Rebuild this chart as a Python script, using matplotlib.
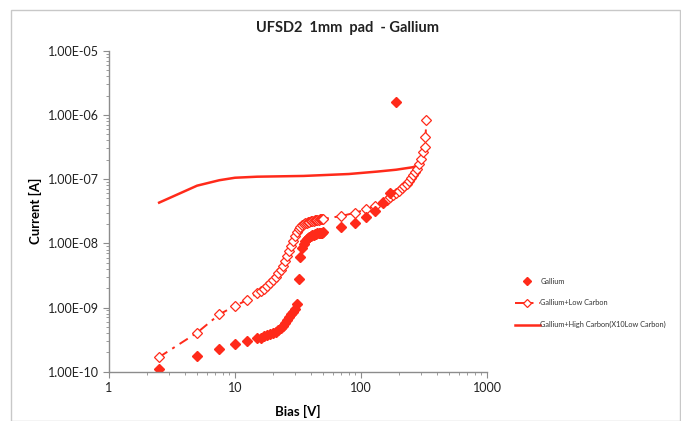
import matplotlib
matplotlib.use("Agg")
import matplotlib.pyplot as plt
from matplotlib.patches import Rectangle
from matplotlib.ticker import LogLocator, FixedFormatter, NullFormatter, FixedLocator

plt.rcParams['font.family'] = ['Lato', 'DejaVu Sans']

RED = '#ff2a1a'

# Gallium (filled diamonds)
ga_v = [2.5, 5, 7.5, 10, 12.5, 15, 16, 17, 18, 19, 20, 21, 22, 23, 24, 25, 26, 27, 28, 29, 30, 31,
        32, 33, 34, 35, 36, 37, 38, 39, 40, 41, 42, 43, 44, 45, 46, 47, 48, 49, 50,
        70, 90, 110, 130, 150, 170, 190]
ga_i = [1.11e-10, 1.77e-10, 2.28e-10, 2.7e-10, 3.0e-10, 3.3e-10, 3.4e-10, 3.55e-10, 3.7e-10, 3.85e-10,
        4.0e-10, 4.2e-10, 4.45e-10, 4.8e-10, 5.2e-10, 5.7e-10, 6.4e-10, 7.0e-10, 7.8e-10, 8.6e-10,
        9.6e-10, 1.12e-9,
        2.75e-9, 6.2e-9, 8.3e-9, 9.6e-9, 1.07e-8, 1.15e-8, 1.22e-8, 1.27e-8, 1.31e-8, 1.34e-8,
        1.37e-8, 1.39e-8, 1.41e-8, 1.43e-8, 1.44e-8, 1.45e-8, 1.46e-8, 1.47e-8, 1.48e-8,
        1.77e-8, 2.1e-8, 2.54e-8, 3.15e-8, 4.2e-8, 6.0e-8, 1.59e-6]

# Gallium + Low Carbon (open diamonds, dash-dot)
lc_v = [2.5, 5, 7.5, 10, 12.5, 15, 16, 17, 18, 19, 20, 21, 22, 23, 24, 25, 26, 27, 28, 29, 30,
        31, 32, 33, 34, 35, 36, 37, 38, 39, 40, 41, 42, 43, 44, 45, 46, 47, 48, 49, 50,
        70, 90, 110, 130, 150, 160, 170, 180, 190, 200, 210, 220, 230, 240, 250, 260, 270,
        280, 290, 300, 310, 320, 325, 330]
lc_i = [1.69e-10, 4.05e-10, 7.8e-10, 1.06e-9, 1.31e-9, 1.66e-9, 1.8e-9, 1.95e-9, 2.15e-9, 2.4e-9,
        2.7e-9, 3.0e-9, 3.4e-9, 3.9e-9, 4.5e-9, 5.3e-9, 6.3e-9, 7.5e-9, 9.0e-9, 1.08e-8, 1.3e-8,
        1.5e-8, 1.67e-8, 1.8e-8, 1.9e-8, 1.98e-8, 2.05e-8, 2.1e-8, 2.14e-8, 2.18e-8, 2.21e-8,
        2.24e-8, 2.26e-8, 2.28e-8, 2.3e-8, 2.32e-8, 2.34e-8, 2.35e-8, 2.37e-8, 2.38e-8, 2.4e-8,
        2.66e-8, 3.0e-8, 3.37e-8, 3.85e-8, 4.4e-8, 4.8e-8, 5.2e-8, 5.6e-8, 6.1e-8, 6.6e-8,
        7.2e-8, 7.8e-8, 8.5e-8, 9.3e-8, 1.03e-7, 1.14e-7, 1.28e-7, 1.45e-7, 1.7e-7, 2.05e-7,
        2.6e-7, 3.2e-7, 4.5e-7, 8.2e-7]

# Gallium + High Carbon (solid line)
hc_v = [2.5, 5, 7.5, 10, 15, 35, 80, 135, 190, 257, 275]
hc_i = [4.3e-8, 7.9e-8, 9.6e-8, 1.05e-7, 1.09e-7, 1.12e-7, 1.2e-7, 1.31e-7, 1.4e-7, 1.53e-7, 1.6e-7]

y_ticks = [1e-10, 1e-9, 1e-8, 1e-7, 1e-6, 1e-5]
y_labels = ['1.00E-10', '1.00E-09', '1.00E-08', '1.00E-07', '1.00E-06', '1.00E-05']
x_ticks = [1, 10, 100, 1000]
x_labels = ['1', '10', '100', '1000']

fig = plt.figure(figsize=(6.81, 4.21), dpi=100)
fig.patches.append(Rectangle((11/681, 0), 1 - 12/681, 1 - 10/421, transform=fig.transFigure,
                             fill=False, edgecolor='#c8c8c8', linewidth=1.0))
ax = fig.add_axes([109/681, 49.3/421, 378/681, 321/421])

ax.plot(hc_v, hc_i, '-', color=RED, linewidth=1.8,
        label='Gallium+High Carbon(X10Low Carbon)')
ax.plot(lc_v, lc_i, linestyle=(0, (5, 3, 1.5, 3)), color=RED, linewidth=1.4,
        marker='D', markersize=5, markerfacecolor='white', markeredgecolor=RED,
        markeredgewidth=0.9, label='Gallium+Low Carbon')
ax.plot(ga_v, ga_i, linestyle='none', color=RED, marker='D', markersize=5.5,
        markeredgecolor=RED, label='Gallium')

ax.set_xscale('log')
ax.set_yscale('log')
ax.set_xlim(1, 1000)
ax.set_ylim(1e-10, 1e-5)

ax.yaxis.set_major_locator(FixedLocator(y_ticks))
ax.yaxis.set_major_formatter(FixedFormatter(y_labels))
ax.yaxis.set_minor_locator(LogLocator(base=10, subs=range(2, 10), numticks=20))
ax.yaxis.set_minor_formatter(NullFormatter())
ax.xaxis.set_major_locator(FixedLocator(x_ticks))
ax.xaxis.set_major_formatter(FixedFormatter(x_labels))
ax.xaxis.set_minor_locator(LogLocator(base=10, subs=range(2, 10), numticks=20))
ax.xaxis.set_minor_formatter(NullFormatter())

for s in ['top', 'right']:
    ax.spines[s].set_visible(False)
for s in ['left', 'bottom']:
    ax.spines[s].set_color('#8c8c8c')
    ax.spines[s].set_linewidth(1.0)
ax.tick_params(which='major', direction='out', length=4, color='#8c8c8c',
               labelsize=9, labelcolor='#222222')
ax.tick_params(which='minor', direction='out', length=2.5, color='#8c8c8c')

ax.set_xlabel('Bias [V]', fontsize=9.5, fontweight='bold', labelpad=8)
ax.set_ylabel('Current [A]', fontsize=9.5, fontweight='bold', labelpad=4)

fig.text(347/681, 1 - 28/421, 'UFSD2  1mm  pad  - Gallium', ha='center', va='center',
         fontsize=10.5, fontweight='bold', color='#222222')

handles, labels = ax.get_legend_handles_labels()
order = [2, 1, 0]
leg = fig.legend([handles[i] for i in order], [labels[i] for i in order],
                 loc='center left', bbox_to_anchor=(508/681, 1 - 303/421),
                 frameon=False, fontsize=5.3, handlelength=3.4, labelspacing=2.0,
                 handletextpad=0.1, markerscale=0.8)
for t in leg.get_texts():
    t.set_color('#333333')

fig.savefig('out.png', dpi=100)
